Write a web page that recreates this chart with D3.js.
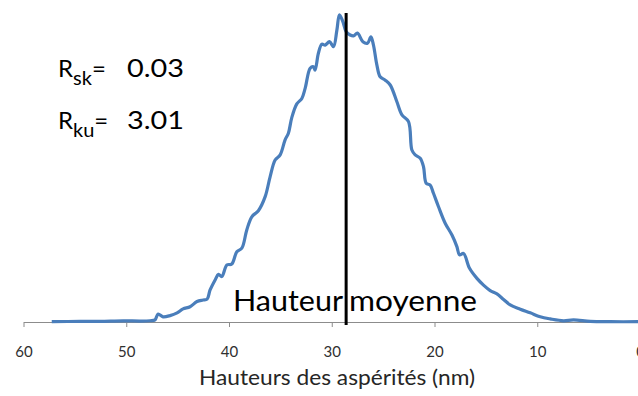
<!DOCTYPE html>
<html>
<head>
<meta charset="utf-8">
<script src="https://cdn.jsdelivr.net/npm/d3@7"></script>
<style>
  html, body { margin: 0; padding: 0; background: #fff; }
  svg { display: block; font-family: Lato, "Open Sans", sans-serif; }
</style>
</head>
<body>
<svg id="chart" width="638" height="396"></svg>
<script>
// Asperity height distribution (nm) and relative frequency
const heights = [57.25, 54.5, 52.55, 50.31, 48.66, 47.68, 47.2, 46.9, 46.42, 45.74, 45.05, 44.47, 43.79, 43.11, 42.52, 42.13, 41.84, 41.35, 41.03, 40.7, 40.21, 39.73, 39.24, 38.75, 38.27, 37.78, 37.14, 36.48, 36.0, 35.51, 35.02, 34.54, 34.22, 33.89, 33.4, 32.91, 32.59, 32.1, 31.78, 31.62, 31.3, 30.96, 30.64, 30.22, 29.83, 29.5, 29.25, 28.92, 28.6, 28.21, 27.89, 27.5, 26.97, 26.52, 26.19, 25.94, 25.61, 25.29, 24.8, 24.31, 23.66, 23.17, 22.53, 22.2, 21.88, 21.39, 21.07, 20.81, 20.42, 20.1, 19.61, 18.96, 18.3, 17.82, 17.56, 17.18, 16.59, 15.87, 15.23, 14.58, 13.92, 13.28, 12.63, 11.65, 10.68, 9.71, 8.73, 7.44, 6.47, 4.84, 2.89, 0.0];
const frequency = [0.1, 0.2, 0.2, 0.4, 0.3, 0.4, 0.7, 2.6, 1.7, 2.1, 3.0, 4.3, 5.0, 6.7, 7.2, 7.5, 10.5, 13.8, 15.6, 14.9, 18.7, 19.0, 23.0, 24.2, 30.2, 34.5, 36.5, 41.1, 47.6, 53.1, 54.8, 59.7, 61.9, 67.0, 71.5, 73.3, 76.6, 83.2, 83.7, 82.6, 88.1, 91.1, 90.8, 91.9, 90.3, 95.7, 100.7, 98.5, 95.2, 94.1, 93.8, 94.7, 91.9, 91.4, 93.5, 90.8, 84.3, 80.4, 79.3, 77.7, 72.2, 67.9, 65.7, 56.4, 54.8, 53.7, 50.9, 45.5, 44.9, 42.2, 37.8, 32.4, 28.5, 24.7, 22.0, 22.5, 17.6, 14.3, 12.1, 10.3, 9.2, 7.4, 5.6, 4.2, 3.0, 1.7, 1.0, 0.4, 0.7, 0.2, 0.1, 0.1];
const tickValues = [60, 50, 40, 30, 20, 10, 0];
const meanHeight = 28.6;
const meanTop = 101.3;
const skewness = "0.03";
const kurtosis = "3.01";
const xTitle = "Hauteurs des aspérités (nm)";
const meanLabel = ["Hauteur", "moyenne"];

const svg = d3.select("#chart");
const x = d3.scaleLinear().domain([60, 0]).range([23.5, 640]);
const y = d3.scaleLinear().domain([0, 100]).range([322, 17]);

// x axis
const axis = svg.append("g")
  .attr("transform", `translate(0,${y(0)})`)
  .call(d3.axisBottom(x).tickValues(tickValues).tickSize(5).tickSizeOuter(0).tickPadding(19));
axis.select(".domain").attr("stroke", "#8c8c8c").attr("stroke-width", 1);
axis.selectAll(".tick line").attr("stroke", "#8c8c8c");
axis.selectAll(".tick text")
  .attr("fill", "#303030")
  .style("font-size", "15px")
  .style("font-family", "Lato, 'Open Sans', sans-serif");

svg.append("text")
  .attr("x", 199).attr("y", 385)
  .attr("fill", "#262626")
  .style("font-size", "22px")
  .attr("textLength", 276)
  .attr("lengthAdjust", "spacingAndGlyphs")
  .text(xTitle);

// distribution curve
const pts = heights.map((h, i) => [h, frequency[i]]);
svg.append("path")
  .datum(pts)
  .attr("fill", "none")
  .attr("stroke", "#4a7ebb")
  .attr("stroke-width", 3.2)
  .attr("stroke-linejoin", "round")
  .attr("d", d3.line().x(d => x(d[0])).y(d => y(d[1])).curve(d3.curveCatmullRom.alpha(0.5)));

// mean height marker
svg.append("line")
  .attr("x1", x(meanHeight)).attr("x2", x(meanHeight))
  .attr("y1", y(meanTop)).attr("y2", y(0) + 3)
  .attr("stroke", "#000").attr("stroke-width", 3);

svg.append("text")
  .attr("x", 233).attr("y", 311)
  .style("font-size", "28px")
  .attr("textLength", 110)
  .attr("lengthAdjust", "spacingAndGlyphs")
  .attr("fill", "#000")
  .text(meanLabel[0]);
svg.append("text")
  .attr("x", 349).attr("y", 311)
  .style("font-size", "28px")
  .attr("textLength", 128)
  .attr("lengthAdjust", "spacingAndGlyphs")
  .attr("fill", "#000")
  .text(meanLabel[1]);

// roughness parameters
function param(yBase, sub, val) {
  const t = svg.append("text").attr("x", 58).attr("y", yBase).attr("fill", "#000").style("font-size", "24px");
  t.append("tspan").text("R");
  t.append("tspan").attr("dy", 8).style("font-size", "20px").text(sub);
  t.append("tspan").attr("dy", -8).text("=");
  svg.append("text").attr("x", 127).attr("y", yBase).attr("fill", "#000")
    .style("font-size", "25px")
    .attr("textLength", 57)
    .attr("lengthAdjust", "spacingAndGlyphs")
    .text(val);
}
param(77, "sk", skewness);
param(129, "ku", kurtosis);
</script>
</body>
</html>
